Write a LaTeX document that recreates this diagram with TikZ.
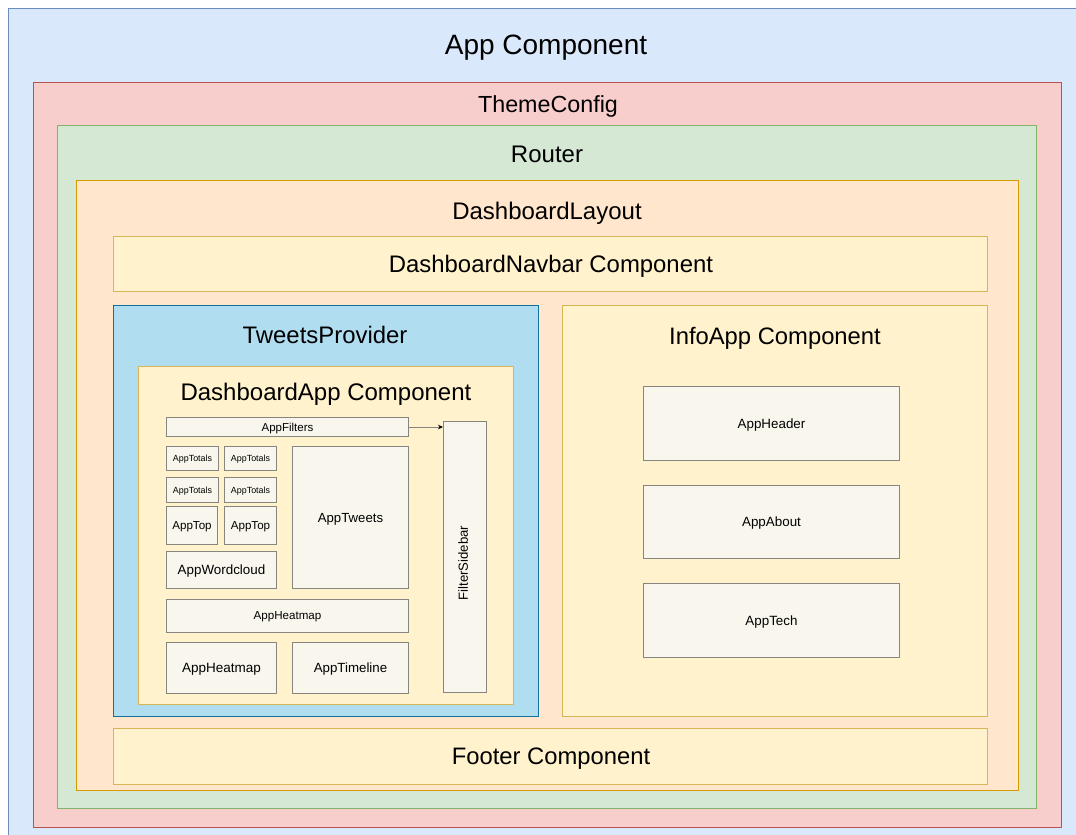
\documentclass[tikz,border=0pt]{standalone}
\usepackage{fontspec}
\setmainfont{Liberation Sans}
\usetikzlibrary{arrows.meta}
\definecolor{blueF}{HTML}{DAE8FC}\definecolor{blueS}{HTML}{6C8EBF}
\definecolor{redF}{HTML}{F8CECC}\definecolor{redS}{HTML}{B85450}
\definecolor{greenF}{HTML}{D5E8D4}\definecolor{greenS}{HTML}{82B366}
\definecolor{orangeF}{HTML}{FFE6CC}\definecolor{orangeS}{HTML}{D79B00}
\definecolor{yelF}{HTML}{FFF2CC}\definecolor{yelS}{HTML}{D6B656}
\definecolor{tpF}{HTML}{B1DDF0}\definecolor{tpS}{HTML}{10739E}
\definecolor{gryF}{HTML}{F9F7ED}\definecolor{gryS}{HTML}{86867F}
\tikzset{
  cont/.style={draw, line width=0.9pt, inner sep=0pt, anchor=north west},
  bluebox/.style={cont, fill=blueF, draw=blueS},
  redbox/.style={cont, fill=redF, draw=redS},
  greenbox/.style={cont, fill=greenF, draw=greenS},
  orangebox/.style={cont, fill=orangeF, draw=orangeS},
  yelbox/.style={cont, fill=yelF, draw=yelS},
  tpbox/.style={cont, fill=tpF, draw=tpS},
  comp/.style={cont, fill=gryF, draw=gryS, align=center, text depth=0pt, line width=1pt},
  title/.style={anchor=base, inner sep=0pt},
  fs/.style={font=\fontsize{#1}{#1}\selectfont},
}
\begin{document}
\begin{tikzpicture}[x=1pt,y=-1pt]
\useasboundingbox (0,0) rectangle (1076,835);
\clip (0,0) rectangle (1076,835);
\node[bluebox, minimum width=1080pt, minimum height=840pt] (app) at (8,8) {};
\node[title, fs=28] (appT) at (546,54) {App Component};
\node[redbox, minimum width=1028pt, minimum height=745pt] (theme) at (33,82) {};
\node[title, fs=23.3] (themeT) at (548,112) {ThemeConfig};
\node[greenbox, minimum width=979pt, minimum height=683pt] (router) at (57,125) {};
\node[title, fs=24] (routerT) at (547,162) {Router};
\node[orangebox, minimum width=942pt, minimum height=610pt] (layout) at (76,180) {};
\node[title, fs=24] (layoutT) at (547,219) {DashboardLayout};
\node[yelbox, minimum width=874pt, minimum height=55pt] (navbar) at (113,236) {};
\node[title, fs=23.9] (navbarT) at (551,272) {DashboardNavbar Component};
\node[yelbox, minimum width=874pt, minimum height=56pt] (footer) at (113,728) {};
\node[title, fs=23.8] (footerT) at (551,764) {Footer Component};
\node[tpbox, minimum width=425pt, minimum height=411pt] (tweets) at (113,305) {};
\node[title, fs=23.9] (tweetsT) at (325,343) {TweetsProvider};
\node[yelbox, minimum width=375pt, minimum height=338pt] (dash) at (138,366) {};
\node[title, fs=24] (dashT) at (326,400) {DashboardApp Component};
\node[yelbox, minimum width=425pt, minimum height=411pt] (info) at (562,305) {};
\node[title, fs=23.8] (infoT) at (775,344) {InfoApp Component};
\node[comp, minimum width=256pt, minimum height=74pt, fs=13.4] (header) at (643,386) {AppHeader};
\node[comp, minimum width=256pt, minimum height=73pt, fs=13.4] (about) at (643,485) {AppAbout};
\node[comp, minimum width=256pt, minimum height=74pt, fs=13.4] (tech) at (643,583) {AppTech};
\node[comp, minimum width=242pt, minimum height=19pt, fs=11.5] (filters) at (166,417) {AppFilters};
\node[comp, minimum width=52pt, minimum height=24pt, fs=8.9] (tot1) at (166,446) {AppTotals};
\node[comp, minimum width=52pt, minimum height=24pt, fs=8.9] (tot2) at (224,446) {AppTotals};
\node[comp, minimum width=52pt, minimum height=25pt, fs=8.9] (tot3) at (166,477) {AppTotals};
\node[comp, minimum width=52pt, minimum height=25pt, fs=8.9] (tot4) at (224,477) {AppTotals};
\node[comp, minimum width=51pt, minimum height=38pt, fs=11.6] (top1) at (166,506) {AppTop};
\node[comp, minimum width=52pt, minimum height=38pt, fs=11.6] (top2) at (224,506) {AppTop};
\node[comp, minimum width=110pt, minimum height=37pt, fs=13.4] (word) at (166,551) {AppWordcloud};
\node[comp, minimum width=116pt, minimum height=142pt, fs=13.2] (tw) at (292,446) {AppTweets};
\node[comp, minimum width=242pt, minimum height=33pt, fs=11.6] (heat1) at (166,599) {AppHeatmap};
\node[comp, minimum width=110pt, minimum height=51pt, fs=13.5] (heat2) at (166,642) {AppHeatmap};
\node[comp, minimum width=116pt, minimum height=51pt, fs=13.3] (timeline) at (292,642) {AppTimeline};
\node[comp, minimum width=43pt, minimum height=271pt] (sidebar) at (443,421) {};
\node[fs=13.2, rotate=90, inner sep=0pt, text depth=0pt] (sidebarT) at ([xshift=-2pt,yshift=-6pt]sidebar.center) {FilterSidebar};
\draw[draw=gryS, line width=1pt, -{Stealth[length=5pt,width=4.5pt,fill=black,color=black]}]
  (filters.east) -- (filters.east -| sidebar.west);
\end{tikzpicture}
\end{document}
